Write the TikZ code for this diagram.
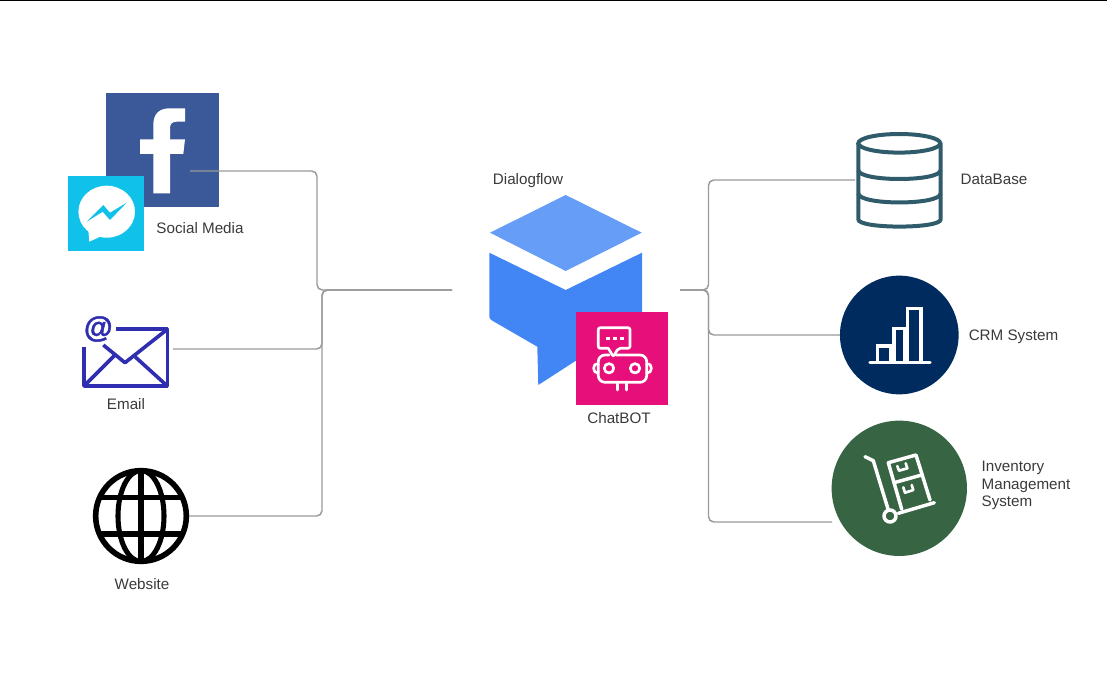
\documentclass[tikz,border=0pt]{standalone}
\usepackage{fontspec}
\setmainfont{Liberation Sans}
\newfontfamily\mailatfont[FakeBold=1.6]{Liberation Sans Bold}
\definecolor{fbblue}{HTML}{3B5998}
\definecolor{msgblue}{HTML}{10C1E9}
\definecolor{mailblue}{HTML}{2F2DB0}
\definecolor{dfupper}{HTML}{669DF6}
\definecolor{dflower}{HTML}{4285F4}
\definecolor{botpink}{HTML}{E7107B}
\definecolor{dbteal}{HTML}{2F5B6B}
\definecolor{crmnavy}{HTML}{002B5E}
\definecolor{invgreen}{HTML}{376443}
\definecolor{labelgrey}{HTML}{3A3A3A}
\definecolor{lineGrey}{HTML}{9A9A9A}
\tikzset{
    conn/.style={draw=lineGrey, line width=1.1pt, rounded corners=4pt},
    label/.style={font=\fontsize{11.4pt}{13.1pt}\selectfont, text=labelgrey, inner sep=0pt},
    squareicon/.style={inner sep=0pt, outer sep=0pt},
    whiteline/.style={draw=white, line width=2pt, line join=round, line cap=round},
    thickwhite/.style={whiteline, line width=2.6pt},
    dbline/.style={draw=dbteal, line width=3pt},
    mailline/.style={draw=mailblue, line width=2.7pt, line join=round},
}
\begin{document}
\begin{tikzpicture}[x=0.75pt, y=-0.75pt]
    \useasboundingbox (0,0) rectangle (1107,677);
    \fill[black] (0,0) rectangle (1107,1.2);

    \node[squareicon, fill=fbblue, minimum width=85.2pt, minimum height=85.2pt] (fbicon) at (162.5,150.2) {};
    \fill[white] (185,108.3) -- (185,121.7) -- (176.7,121.7) .. controls (172,121.7) and (170,124) .. (170,128.3) -- (170,139.3) -- (185,139.3) -- (183.3,154) -- (170,154) -- (170,193.3) -- (153.3,193.3) -- (153.3,154) -- (140,154) -- (140,139.3) -- (153.3,139.3) -- (153.3,125) .. controls (153.3,113) and (160,108.3) .. (170,108.3) -- cycle;
    \node[squareicon, fill=msgblue, minimum width=57pt, minimum height=56.5pt] (msgicon) at (106.3,213.7) {};
    \fill[white] (106.7,211.7) ellipse [x radius=28.3, y radius=26];
    \fill[white] (88.3,230) -- (89.3,241.7) -- (101.7,236) -- cycle;
    \fill[msgblue] (86.7,221.7) -- (103.3,205) -- (110,212.7) -- (126.7,202.7) -- (110,220) -- (102.7,211.7) -- cycle;
    \node[label] (sociallabel) at (200,228) {Social Media};

    \node[squareicon, minimum width=63pt, minimum height=43pt] (mailicon) at (125.7,357.7) {};
    \draw[mailline] (84,346.7) -- (84,386) -- (167.3,386) -- (167.3,329.3) -- (116,329.3);
    \draw[mailline] (103.3,345) -- (125,362.7) -- (167.3,329.3);
    \draw[mailline] (84,386) -- (115,355) (167.3,386) -- (135,356.7);
    \node[text=mailblue, inner sep=0pt, font=\mailatfont\fontsize{22pt}{22pt}\selectfont] (mailat) at (98.3,329) {@};
    \node[label] (maillabel) at (126,404) {Email};

    \node[circle, draw=black, line width=4.2pt, minimum size=68pt, inner sep=0pt] (globeicon) at (141,516) {};
    \draw[black, line width=3.8pt] (141,516) ellipse [x radius=23, y radius=45.5];
    \draw[black, line width=3.8pt] (141,470) -- (141,562) (100,497.3) -- (182,497.3) (100,534) -- (182,534);
    \node[label] (globelabel) at (142,584) {Website};

    \fill[dfupper] (565.7,195) -- (641.7,232.7) -- (565.7,271) -- (490,232.7) -- cycle;
    \fill[dflower] (489.3,252.7) -- (565.7,290) -- (642,252.7) -- (642,318) -- (538.3,385) -- (537.3,346.7) -- (492,320.5) .. controls (490,319.3) and (489.3,318.3) .. (489.3,316) -- cycle;
    \node[label] (dflabel) at (528,181) {Dialogflow};

    \node[squareicon, fill=botpink, minimum width=69.5pt, minimum height=69.5pt] (boticon) at (622,358.7) {};
    \draw[whiteline, rounded corners=1.5pt] (608.3,348.3) -- (598.3,348.3) -- (598.3,327.7) -- (630,327.7) -- (630,348.3) -- (618.3,348.3) -- (613.3,356.7) -- (608.3,348.3);
    \draw[whiteline, dash pattern=on 3pt off 2.2pt, line cap=butt] (606,338.3) -- (624,338.3);
    \draw[whiteline, rounded corners=5pt] (609,355) -- (598.3,355) -- (598.3,382.3) -- (646.7,382.3) -- (646.7,355) -- (616,355);
    \draw[whiteline] (609,368.3) circle [radius=4.7] (635,368.3) circle [radius=4.7];
    \draw[whiteline] (598.3,364.3) .. controls (592,362) and (592,374.5) .. (598.3,372.3);
    \draw[whiteline] (646.7,364.3) .. controls (653,362) and (653,374.5) .. (646.7,372.3);
    \draw[whiteline] (617.7,382.3) -- (617.7,390) (626.7,382.3) -- (626.7,390);
    \node[label] (botlabel) at (619,418) {ChatBOT};

    \node[squareicon, minimum width=61.5pt, minimum height=62pt] (dbicon) at (899.3,180) {};
    \draw[dbline] (899.3,143.3) ellipse [x radius=41, y radius=9.3];
    \draw[dbline, rounded corners=2pt] (858.3,143.3) -- (858.3,216.7) .. controls (858.3,229) and (940.7,229) .. (940.7,216.7) -- (940.7,143.3);
    \draw[dbline] (858.3,170) .. controls (858.3,182) and (940.7,182) .. (940.7,170);
    \draw[dbline] (858.3,193.3) .. controls (858.3,205.5) and (940.7,205.5) .. (940.7,193.3);
    \node[label] (dblabel) at (994,179) {DataBase};

    \node[circle, fill=crmnavy, minimum size=89pt, inner sep=0pt, outer sep=0pt] (crmicon) at (899.3,335) {};
    \draw[thickwhite] (870,362.3) -- (930,362.3);
    \draw[thickwhite, line join=miter] (877.3,362.3) -- (877.3,346) -- (890.7,346) -- (890.7,362.3);
    \draw[thickwhite, line join=miter] (894,362.3) -- (894,328.3) -- (905,328.3) -- (905,362.3);
    \draw[thickwhite, line join=miter] (907.3,362.3) -- (907.3,308.3) -- (921,308.3) -- (921,362.3);
    \node[label] (crmlabel) at (1013.5,337) {CRM System};

    \node[circle, fill=invgreen, minimum size=101.5pt, inner sep=0pt, outer sep=0pt] (invicon) at (899.3,488.3) {};
    \draw[thickwhite] (865,456.7) -- (873.3,460.7) -- (888.3,510);
    \draw[thickwhite] (890,516) circle [radius=6];
    \draw[thickwhite] (898.3,513.3) -- (934.3,502.7);
    \draw[thickwhite] (901.7,509.3) -- (888.3,462.7) -- (916,455) -- (930,500);
    \draw[thickwhite] (894,482.7) -- (921.7,475);
    \draw[whiteline] (897.3,466) -- (899,470.7) -- (907.3,468.3) -- (905.7,463.3);
    \draw[whiteline] (903.3,487.3) -- (905,492.7) -- (913.3,490) -- (911.7,485);
    \node[label, align=left] (invlabel) at (1026,485.5) {Inventory\\Management\\System};

    \coordinate (hubleft) at (452,290);
    \coordinate (hubright) at (680,290);
    \coordinate (fbjoin) at (317,290);
    \coordinate (busleft) at (322,290);
    \coordinate (busright) at (708.5,290);
    \coordinate (fbstart) at (190,171);
    \coordinate (mailstart) at (173,349);
    \coordinate (dbend) at (855,180);
    \coordinate (invend) at (832,522);

    \draw[conn] (fbstart) -| (fbjoin) -- (hubleft);
    \draw[conn] (mailstart) -| (busleft) -- (hubleft);
    \draw[conn] (globeicon.east) -| (busleft) -- (hubleft);
    \draw[conn] (hubright) -- (busright) |- (dbend);
    \draw[conn] (hubright) -- (busright) |- (crmicon.west);
    \draw[conn] (hubright) -- (busright) |- (invend);
\end{tikzpicture}
\end{document}
